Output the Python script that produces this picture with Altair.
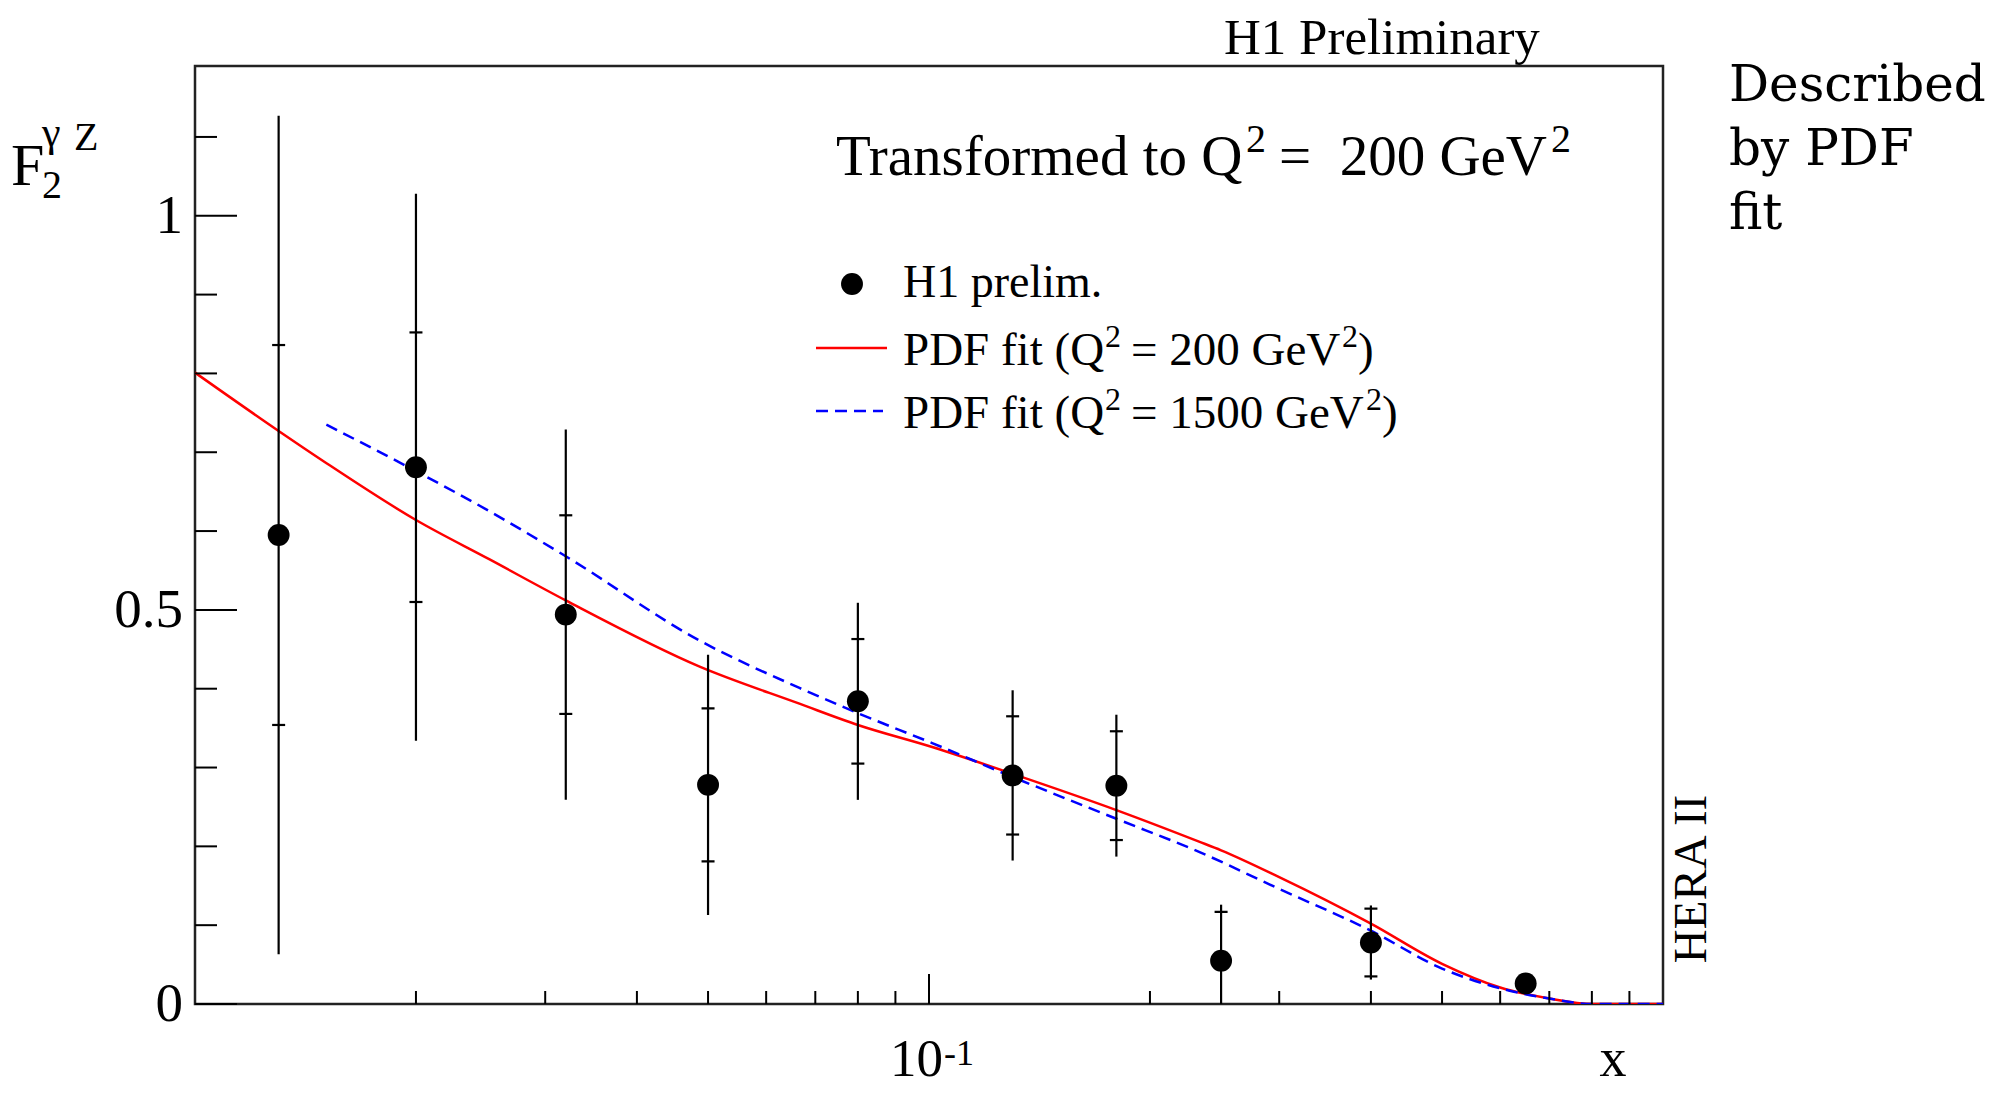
import altair as alt
import pandas as pd

# ---------------- data ----------------
x_pts = [0.013, 0.02, 0.032, 0.05, 0.08, 0.13, 0.18, 0.25, 0.4, 0.65]
f2_vals = [0.595, 0.681, 0.494, 0.278, 0.384, 0.290, 0.277, 0.055, 0.078, 0.026]
stat_err = [0.241, 0.171, 0.126, 0.097, 0.079, 0.075, 0.069, 0.062, 0.043, 0.008]
tot_err = [0.532, 0.347, 0.235, 0.165, 0.125, 0.108, 0.090, 0.071, 0.047, 0.012]

# PDF fit, Q2 = 200 GeV2 (red, solid)
red_x = [0.01, 0.013, 0.015, 0.02, 0.0252, 0.032, 0.0487, 0.0666, 0.08, 0.101,
         0.13, 0.18, 0.2333, 0.25, 0.3, 0.4, 0.5, 0.6, 0.7, 0.8, 1.0]
red_y = [0.801, 0.727, 0.688, 0.614, 0.564, 0.512, 0.428, 0.381, 0.354, 0.326,
         0.292, 0.246, 0.206, 0.195, 0.161, 0.102, 0.051, 0.021, 0.007, 0.0, 0.0]

# PDF fit, Q2 = 1500 GeV2 (blue, dashed)
blue_x = [0.0151, 0.02, 0.0252, 0.032, 0.0487, 0.0666, 0.08, 0.101, 0.13,
          0.18, 0.2333, 0.3, 0.4, 0.5, 0.6, 0.7, 0.8, 1.0]
blue_y = [0.735, 0.676, 0.625, 0.568, 0.461, 0.401, 0.369, 0.331, 0.288,
          0.235, 0.193, 0.146, 0.093, 0.045, 0.020, 0.007, 0.0, 0.0]

y_major_ticks = [0.0, 0.5, 1.0]
y_major_labels = ["0", "0.5", "1"]
y_minor_ticks = [0.1, 0.2, 0.3, 0.4, 0.6, 0.7, 0.8, 0.9, 1.1]
x_major_ticks = [0.1]
x_minor_ticks = [0.02, 0.03, 0.04, 0.05, 0.06, 0.07, 0.08, 0.09,
                 0.2, 0.3, 0.4, 0.5, 0.6, 0.7, 0.8, 0.9]
x_major_base = ["10"]
x_major_exp = ["-1"]

legend_name = "H1 prelim."
fit_prefix = "PDF fit (Q"
fit_q2_values = ["= 200 GeV", "= 1500 GeV"]
title_text = "H1 Preliminary"
transform_prefix = "Transformed to Q"
transform_value = "=\u00a0\u00a0200 GeV"
sup2 = "2"
side_note = ["Described", "by PDF", "fit"]
hera_text = "HERA II"
x_title = "x"

# ---------------- layout / style ----------------
W, H = 1468, 938
SERIF = "Liberation Serif"
XD = [0.01, 1.0]
YD = [0.0, 1.19]
xs = alt.Scale(type="log", domain=XD, nice=False)
ys = alt.Scale(domain=YD, nice=False, zero=False)

pts = pd.DataFrame({"x": x_pts, "y": f2_vals, "stat": stat_err, "tot": tot_err})
pts["t_lo"] = pts["y"] - pts["tot"]
pts["t_hi"] = pts["y"] + pts["tot"]
stat_long = pd.DataFrame({
    "x": x_pts + x_pts,
    "v": [a + b for a, b in zip(f2_vals, stat_err)] + [a - b for a, b in zip(f2_vals, stat_err)],
})
red = pd.DataFrame({"x": red_x, "y": red_y})
blue = pd.DataFrame({"x": blue_x, "y": blue_y})
one = pd.DataFrame({"a": [0]})

X = lambda f: alt.X(f, scale=xs, axis=None)
Y = lambda f: alt.Y(f, scale=ys, axis=None)

red_line = alt.Chart(red).mark_line(color="#ff0000", strokeWidth=2.5, interpolate="monotone", clip=True).encode(
    x=X("x:Q"), y=Y("y:Q"))
blue_line = alt.Chart(blue).mark_line(color="#0000ff", strokeWidth=2.5, strokeDash=[12, 7],
                                      interpolate="monotone", clip=True).encode(x=X("x:Q"), y=Y("y:Q"))

err_tot = alt.Chart(pts).mark_rule(color="black", strokeWidth=2.2, clip=True).encode(
    x=X("x:Q"), y=Y("t_lo:Q"), y2="t_hi:Q")
err_stat = alt.Chart(stat_long).mark_tick(color="black", orient="horizontal", size=13, thickness=2.2,
                                           opacity=1, clip=True).encode(x=X("x:Q"), y=Y("v:Q"))
points = alt.Chart(pts).mark_circle(color="black", size=480, opacity=1).encode(x=X("x:Q"), y=Y("y:Q"))

# axis ticks (ROOT-style, pointing inwards)
ymaj = alt.Chart(pd.DataFrame({"v": y_major_ticks, "lab": y_major_labels}))
ytick_major = ymaj.mark_rule(color="black", strokeWidth=2).encode(y=Y("v:Q"), x=alt.value(0), x2=alt.value(42))
ytick_minor = alt.Chart(pd.DataFrame({"v": y_minor_ticks})).mark_rule(color="black", strokeWidth=2).encode(
    y=Y("v:Q"), x=alt.value(0), x2=alt.value(22))
ylabels = ymaj.mark_text(align="right", baseline="middle", font=SERIF, fontSize=55, color="black").encode(
    y=Y("v:Q"), x=alt.value(-12), text="lab:N")

xmaj = alt.Chart(pd.DataFrame({"v": x_major_ticks, "base": x_major_base, "exp": x_major_exp}))
xtick_major = xmaj.mark_rule(color="black", strokeWidth=2).encode(x=X("v:Q"), y=alt.value(H), y2=alt.value(H - 30))
xtick_minor = alt.Chart(pd.DataFrame({"v": x_minor_ticks})).mark_rule(color="black", strokeWidth=2).encode(
    x=X("v:Q"), y=alt.value(H), y2=alt.value(H - 13))
xlab_base = xmaj.mark_text(align="right", baseline="alphabetic", font=SERIF, fontSize=53, dx=14,
                           color="black").encode(x=X("v:Q"), y=alt.value(1010), text="base:N")
xlab_exp = xmaj.mark_text(align="left", baseline="alphabetic", font=SERIF, fontSize=36, dx=15,
                          color="black").encode(x=X("v:Q"), y=alt.value(999), text="exp:N")


def label(txt, x, y, size, font=SERIF, align="left", angle=0, baseline="alphabetic"):
    kw = dict(text=txt, align=align, baseline=baseline, font=font, fontSize=size, color="black")
    if angle:
        kw["angle"] = angle
    return alt.Chart(one).mark_text(**kw).encode(x=alt.value(x), y=alt.value(y))


texts = [
    label(title_text, 1029, -12, 51),
    # Transformed to Q^2 =  200 GeV^2
    label(transform_prefix, 641, 109, 57),
    label(sup2, 1051, 86, 40),
    label(transform_value, 1084, 109, 57),
    label(sup2, 1356, 86, 40),
    # legend texts
    label(legend_name, 708, 231, 46),
    label(fit_prefix, 708, 299, 47),
    label(sup2, 910, 281, 32),
    label(fit_q2_values[0], 936, 299, 47),
    label(sup2, 1147, 281, 32),
    label(")", 1163, 299, 47),
    label(fit_prefix, 708, 362, 47),
    label(sup2, 910, 344, 32),
    label(fit_q2_values[1], 936, 362, 47),
    label(sup2, 1171, 344, 32),
    label(")", 1187, 362, 47),
    # note to the right
    label(side_note[0], 1534, 35, 50, font="DejaVu Serif"),
    label(side_note[1], 1534, 99, 50, font="DejaVu Serif"),
    label(side_note[2], 1534, 163, 50, font="DejaVu Serif"),
    label(hera_text, 1497, 813, 47, align="center", angle=270, baseline="middle"),
    label(x_title, 1418, 1010, 54, align="center"),
    # y-axis title F_2^{gamma Z}
    label("F", -184, 119, 60),
    label("2", -153, 132, 40),
    label("\u03b3", -153, 80, 42),
    label("Z", -121, 84, 40),
]

leg_marker = alt.Chart(one).mark_circle(color="black", size=480, opacity=1).encode(
    x=alt.value(657), y=alt.value(218))
leg_red = alt.Chart(one).mark_rule(color="#ff0000", strokeWidth=2.5).encode(
    x=alt.value(621), x2=alt.value(692), y=alt.value(282))
leg_blue = alt.Chart(one).mark_rule(color="#0000ff", strokeWidth=2.5, strokeDash=[12, 7]).encode(
    x=alt.value(621), x2=alt.value(688), y=alt.value(345))

chart = alt.layer(
    red_line, blue_line, err_tot, err_stat, points,
    ytick_major, ytick_minor, ylabels, xtick_major, xtick_minor, xlab_base, xlab_exp,
    leg_marker, leg_red, leg_blue, *texts,
).properties(
    width=W, height=H,
    autosize=alt.AutoSizeParams(type="none"),
    padding={"left": 187, "top": 58, "right": 322, "bottom": 84},
    background="white",
).configure_view(stroke="#222", strokeWidth=2.5)

chart.save("out.html", embed_options={"renderer": "svg", "actions": False})
